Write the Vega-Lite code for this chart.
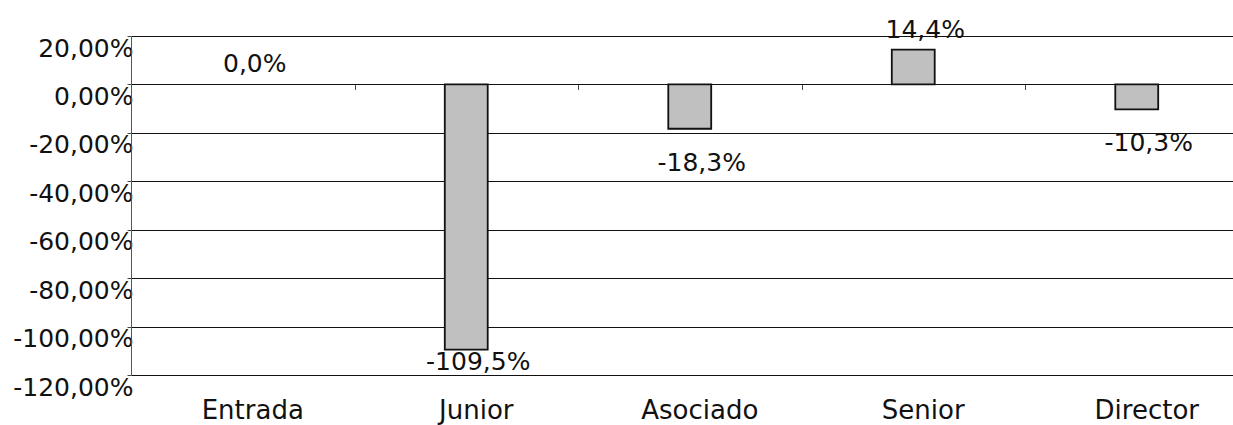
{
  "$schema": "https://vega.github.io/schema/vega-lite/v6.json",
  "autosize": {"type": "none"},
  "width": 1102,
  "height": 339,
  "padding": {"left": 131, "top": 36, "right": 0, "bottom": 50},
  "background": "white",
  "config": {
    "view": {"stroke": null},
    "font": "DejaVu Sans",
    "locale": {
      "number": {"decimal": ",", "thousands": ".", "grouping": [3], "currency": ["", " €"], "minus": "-", "percent": "%"}
    }
  },
  "data": {
    "values": [
      {"cat": "Entrada", "v": 0},
      {"cat": "Junior", "v": -1.095},
      {"cat": "Asociado", "v": -0.183},
      {"cat": "Senior", "v": 0.144},
      {"cat": "Director", "v": -0.103}
    ]
  },
  "layer": [
    {
      "mark": {"type": "bar", "width": {"band": 0.192}, "fill": "#c0c0c0", "stroke": "#111", "strokeWidth": 1.8},
      "encoding": {
        "x": {
          "field": "cat", "type": "nominal", "sort": null,
          "scale": {"range": [0, 1117.5], "paddingInner": 0, "paddingOuter": 0},
          "axis": {"title": null, "orient": "bottom", "domain": false, "ticks": false, "tickSize": 0, "labelPadding": 22, "labelAngle": 0, "labelFontSize": 26, "labelColor": "#111", "labelOffset": 10, "labelBaseline": "top", "grid": false}
        },
        "y": {
          "field": "v", "type": "quantitative",
          "scale": {"domain": [-1.2, 0.2], "nice": false, "zero": false},
          "axis": {"title": null, "values": [-1.2, -1, -0.8, -0.6, -0.4, -0.2, 0, 0.2], "format": ".2%", "labelFontSize": 25, "labelColor": "#111", "labelBaseline": "top", "labelPadding": -6, "tickSize": 4, "tickColor": "#444", "domainColor": "#555", "domainWidth": 1, "grid": true, "gridColor": "#111", "gridWidth": 1, "gridOpacity": 1}
        },
        "strokeOpacity": {"condition": {"test": "datum.v == 0", "value": 0}, "value": 1}
      }
    },
    {
      "transform": [{"filter": "datum.v >= 0"}],
      "mark": {"type": "text", "baseline": "alphabetic", "align": "center", "dy": -12, "dx": 12, "fontSize": 25, "color": "#111"},
      "encoding": {
        "x": {"field": "cat", "type": "nominal", "sort": null, "axis": null},
        "y": {"field": "v", "type": "quantitative"},
        "text": {"field": "v", "type": "quantitative", "format": ".1%"}
      }
    },
    {
      "transform": [{"filter": "datum.v < 0 && datum.v >= -1"}],
      "mark": {"type": "text", "baseline": "top", "align": "center", "dy": 22, "dx": 12, "fontSize": 25, "color": "#111"},
      "encoding": {
        "x": {"field": "cat", "type": "nominal", "sort": null, "axis": null},
        "y": {"field": "v", "type": "quantitative"},
        "text": {"field": "v", "type": "quantitative", "format": ".1%"}
      }
    },
    {
      "transform": [{"filter": "datum.v < -1"}],
      "mark": {"type": "text", "baseline": "top", "align": "center", "dy": 0, "dx": 12, "fontSize": 25, "color": "#111"},
      "encoding": {
        "x": {"field": "cat", "type": "nominal", "sort": null, "axis": null},
        "y": {"field": "v", "type": "quantitative"},
        "text": {"field": "v", "type": "quantitative", "format": ".1%"}
      }
    },
    {
      "mark": {"type": "tick", "opacity": 0},
      "encoding": {
        "x": {
          "field": "cat", "type": "nominal", "sort": null,
          "axis": {"title": null, "orient": "bottom", "offset": -290.6, "labels": false, "domain": false, "ticks": true, "tickBand": "extent", "tickSize": 5, "tickColor": "#444", "tickWidth": 1, "grid": false}
        },
        "y": {"field": "v", "type": "quantitative"}
      }
    }
  ],
  "resolve": {"axis": {"x": "independent", "y": "shared"}}
}
